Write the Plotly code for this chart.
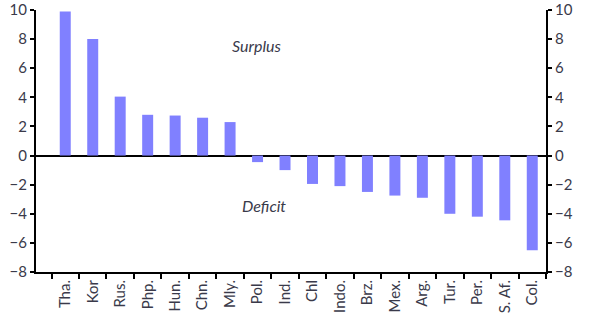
import plotly.graph_objects as go

countries = ["Tha.", "Kor", "Rus.", "Php.", "Hun.", "Chn.", "Mly.", "Pol.", "Ind.", "Chl",
             "Indo.", "Brz.", "Mex.", "Arg.", "Tur.", "Per.", "S. Af.", "Col."]
balance = [9.9, 8.0, 4.05, 2.8, 2.75, 2.6, 2.3, -0.45, -1.0, -1.95,
           -2.1, -2.5, -2.75, -2.9, -4.0, -4.2, -4.45, -6.5]
y_ticks = [-8, -6, -4, -2, 0, 2, 4, 6, 8, 10]

txt_color = "#3a3a4a"
font_family = "Lato, 'Open Sans', sans-serif"

fig = go.Figure()
fig.add_trace(go.Bar(x=countries, y=balance, marker=dict(color="#8080ff", line=dict(width=0)),
                     showlegend=False))
# mirror trace to create a right-hand axis
fig.add_trace(go.Scatter(x=[countries[0]], y=[0], yaxis="y2", mode="markers",
                         marker=dict(opacity=0), showlegend=False, hoverinfo="skip"))

axis_common = dict(range=[-8, 10], tickvals=y_ticks, ticks="outside", ticklen=4, tickwidth=2,
                   tickcolor="black", showline=True, linewidth=2, linecolor="black",
                   showgrid=False, automargin=False,
                   tickfont=dict(size=15, color=txt_color, family=font_family))

fig.update_layout(
    width=600, height=323,
    margin=dict(l=36, r=54, t=10, b=51),
    paper_bgcolor="white", plot_bgcolor="white",
    bargap=0.6,
    xaxis=dict(showline=True, linewidth=2, linecolor="black", ticks="outside", ticklen=5,
               tickwidth=2, tickcolor="black", tickson="boundaries", tickangle=-90,
               showgrid=False, automargin=False,
               tickfont=dict(size=15, color=txt_color, family=font_family)),
    yaxis=dict(**axis_common, zeroline=True, zerolinewidth=2, zerolinecolor="black"),
    yaxis2=dict(**axis_common, overlaying="y", side="right", zeroline=False),
    annotations=[
        dict(x=6.95, y=7.55, xref="x", yref="y", text="<i>Surplus</i>", showarrow=False,
             font=dict(size=16, color=txt_color, family=font_family)),
        dict(x=7.25, y=-3.4, xref="x", yref="y", text="<i>Deficit</i>", showarrow=False,
             font=dict(size=16, color=txt_color, family=font_family)),
    ],
)

fig.write_html("out.html")
